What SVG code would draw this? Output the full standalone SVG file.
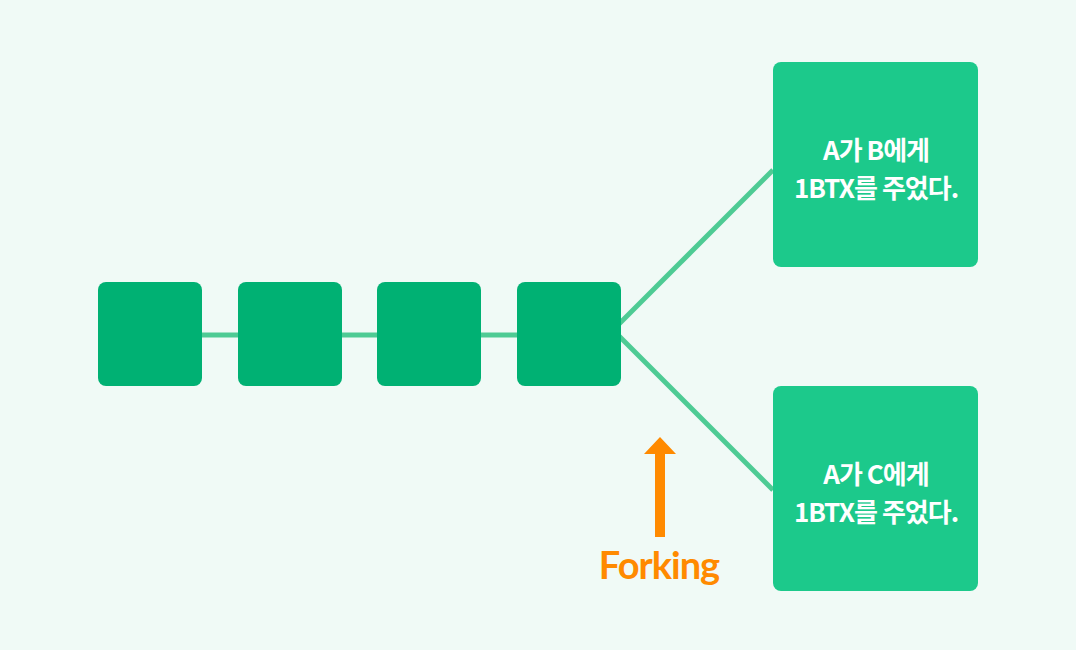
<svg xmlns="http://www.w3.org/2000/svg" width="1076" height="650" viewBox="0 0 1076 650">
<style>
.b{fill:#00b173}
.t{fill:#1cc98b}
.l{stroke:#4ecb94;stroke-width:5;fill:none}
.w{fill:#fff;font-family:"Noto Sans CJK KR","Noto Sans",sans-serif;font-weight:bold;font-size:26px;text-anchor:middle;letter-spacing:-1px}
</style>
<rect width="1076" height="650" fill="#f0faf6"/>
<g id="connectors">
<path class="l" d="M202 335H517"/>
<path class="l" d="M619 324L773 170"/>
<path class="l" d="M619 336L773 490"/>
</g>
<g id="n1"><rect class="b" x="98" y="282" width="104" height="104" rx="8"/></g>
<g id="n2"><rect class="b" x="238" y="282" width="104" height="104" rx="8"/></g>
<g id="n3"><rect class="b" x="377" y="282" width="104" height="104" rx="8"/></g>
<g id="n4"><rect class="b" x="517" y="282" width="104" height="104" rx="8"/></g>
<g id="top"><rect class="t" x="773" y="62" width="205" height="205" rx="8"/>
<text class="w" x="876" y="160">A가 B에게</text><text class="w" x="876" y="198">1BTX를 주었다.</text></g>
<g id="bottom"><rect class="t" x="773" y="386" width="205" height="205" rx="8"/>
<text class="w" x="876" y="484">A가 C에게</text><text class="w" x="876" y="522">1BTX를 주었다.</text></g>
<g id="fork">
<path d="M660 437L676 454H665V537H655V454H644Z" fill="#ff8a00"/>
<text x="659" y="579" fill="#ff8a00" font-family="Lato,sans-serif" font-weight="bold" font-size="38" text-anchor="middle" letter-spacing="-1">Forking</text>
</g>
</svg>
